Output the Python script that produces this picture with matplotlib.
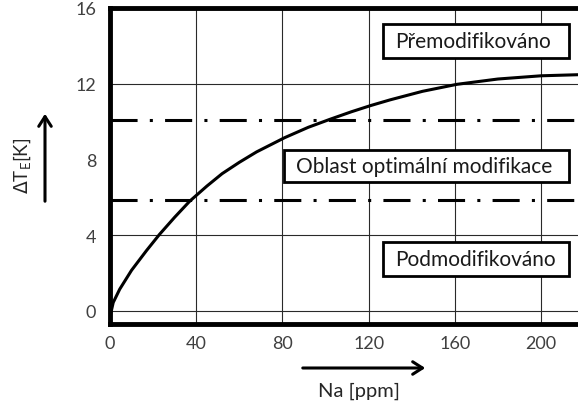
import matplotlib
matplotlib.use("Agg")
import matplotlib.pyplot as plt
from matplotlib.patches import Rectangle, FancyArrowPatch

plt.rcParams['font.family'] = ['Lato', 'DejaVu Sans']
plt.rcParams['lines.scale_dashes'] = False

# Undercooling vs. sodium content
na_ppm = [0, 1.5, 4.5, 10, 17, 23, 30, 37, 45, 52, 60, 68, 81, 92, 102,
          112, 121, 130, 145, 161, 180, 200, 218]
delta_te = [-0.3, 0.45, 1.15, 2.15, 3.2, 4.05, 4.95, 5.8, 6.6, 7.25, 7.85,
            8.4, 9.15, 9.7, 10.12, 10.52, 10.85, 11.15, 11.6, 11.97, 12.25,
            12.42, 12.48]

# Limits of the optimal modification band
band_upper = 10.1
band_lower = 5.85

x_ticks = [0, 40, 80, 120, 160, 200]
y_ticks = [0, 4, 8, 12, 16]
x_grid = [40, 80, 120, 160, 200]
y_grid = [0, 4, 12]

region_labels = ["Přemodifikováno", "Oblast optimální modifikace", "Podmodifikováno"]
x_label = "Na [ppm]"
y_label = r"$\Delta$T$_{\mathregular{E}}$[K]"

W, H = 578, 402
fig = plt.figure(figsize=(W / 100, H / 100), dpi=100)

# axes box in pixels
left, right, top, bottom = 110, 578, 9, 325
ax = fig.add_axes([left / W, 1 - bottom / H, (right - left) / W, (bottom - top) / H])

x_per_px = 200 / (541 - 110)
y_per_px = 16 / (312 - 9)
ax.set_xlim(0, (right - left) * x_per_px)
ax.set_ylim(-(bottom - 312) * y_per_px, 16)

grid_col = '#2a2a2a'
for gx in x_grid:
    ax.axvline(gx, color=grid_col, lw=0.8, zorder=1)
for gy in y_grid:
    ax.axhline(gy, color=grid_col, lw=0.8, zorder=1)

dashdot = (0, (19.5, 8.8, 2.2, 8.8))
for level in (band_upper, band_lower):
    ax.plot([0, 1], [level, level], transform=ax.get_yaxis_transform(),
            color='black', lw=2.2, linestyle=dashdot, solid_capstyle='butt',
            dash_capstyle='butt', zorder=2)

ax.plot(na_ppm, delta_te, color='black', lw=2.2, zorder=3,
        solid_joinstyle='round')

for side in ('left', 'bottom', 'top'):
    ax.spines[side].set_linewidth(3.5)
    ax.spines[side].set_color('black')
ax.spines['right'].set_visible(False)

ax.set_xticks(x_ticks)
ax.set_yticks(y_ticks)
ax.set_xticklabels([str(v) for v in x_ticks])
ax.set_yticklabels([str(v) for v in y_ticks])
ax.tick_params(axis='both', length=0, labelsize=13, colors='#404040')
ax.tick_params(axis='y', pad=10)
ax.tick_params(axis='x', pad=8)

# region boxes (pixel coordinates of figure)
boxes = [
    (383, 569, 25, 59),
    (284, 569, 151, 183),
    (383, 569, 243, 277),
]
for label, (bx0, bx1, by0, by1) in zip(region_labels, boxes):
    fx0 = (bx0 - left) / (right - left)
    fx1 = (bx1 - left) / (right - left)
    fy0 = (bottom - by1) / (bottom - top)
    fy1 = (bottom - by0) / (bottom - top)
    rect = Rectangle((fx0, fy0), fx1 - fx0, fy1 - fy0, transform=ax.transAxes,
                     facecolor='white', edgecolor='black', lw=2.0, zorder=5,
                     clip_on=False)
    ax.add_patch(rect)
    ax.text(fx0 + 12 / (right - left), (fy0 + fy1) / 2, label,
            transform=ax.transAxes, ha='left', va='center', fontsize=15,
            color='#1a1a1a', zorder=6)

# axis arrows and labels
for start, end in [((45, 205), (45, 112)), ((300, 369), (428, 369))]:
    fig.patches.append(FancyArrowPatch(
        (start[0] / W, 1 - start[1] / H), (end[0] / W, 1 - end[1] / H),
        transform=fig.transFigure,
        arrowstyle='->,head_length=7,head_width=4.5', lw=2.2, color='black',
        mutation_scale=1))

fig.text(22 / W, 1 - 166 / H, y_label, rotation=90, ha='center', va='center',
         fontsize=13.5, color='#262626')
fig.text(359 / W, 1 - 391 / H, x_label, ha='center', va='center',
         fontsize=14.5, color='#262626')

fig.savefig('out.png', dpi=100)
